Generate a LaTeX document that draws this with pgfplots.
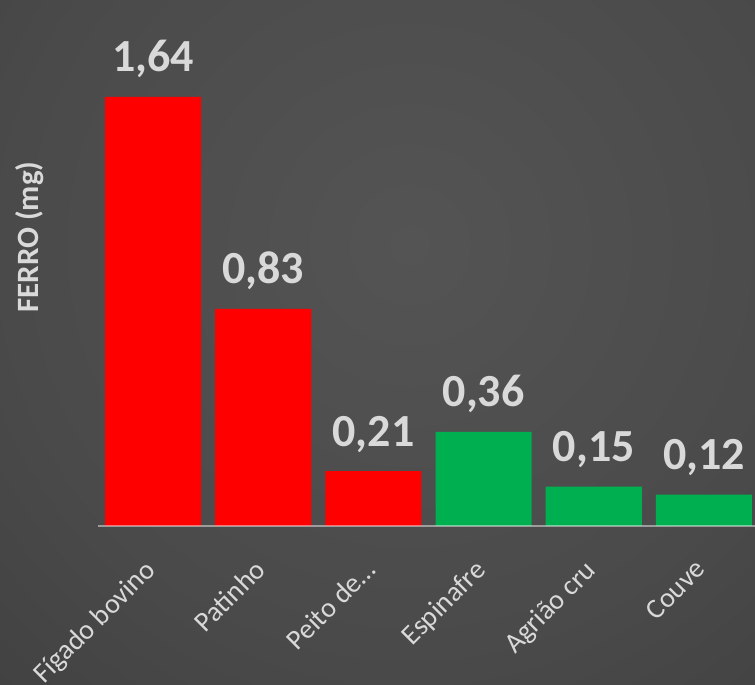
\documentclass[border=0pt]{standalone}
\usepackage{pgfplots}
\pgfplotsset{compat=1.18}
\usepackage{fontspec}
\setmainfont{Carlito}
\definecolor{bgin}{HTML}{545454}
\definecolor{bgmid}{HTML}{4A4A4A}
\definecolor{bgo1}{HTML}{383838}
\definecolor{bgout}{HTML}{242424}
\definecolor{barred}{HTML}{FF0000}
\definecolor{bargreen}{HTML}{00B050}
\definecolor{lbl}{HTML}{D9D9D9}
\pgfdeclareradialshading{bgshade}{\pgfpoint{0bp}{0bp}}{color(0bp)=(bgin); color(16bp)=(bgmid); color(34bp)=(bgo1); color(46bp)=(bgout); color(50bp)=(bgout)}
\begin{document}
\begin{tikzpicture}[x=1pt,y=1pt]
\useasboundingbox (0,0) rectangle (755,685);
\begin{scope}
\clip (0,0) rectangle (755,685);
\shade[shading=bgshade] (410,440) circle (630);
\end{scope}
\begin{axis}[
  at={(98pt,159pt)}, anchor=south west,
  scale only axis, width=661pt, height=523.4pt,
  xmin=-0.5, xmax=5.5, ymin=0, ymax=2,
  clip=false,
  axis line style={draw=none},
  ytick=\empty,
  xtick={0,1,2,3,4,5},
  xticklabels={Fígado bovino, Patinho, Peito de…, Espinafre, Agrião cru, Couve},
  major tick length=0pt,
  xticklabel style={font=\fontsize{28}{30}\selectfont, text=lbl, xshift=-10pt, yshift=-32pt, rotate=45, anchor=north east, inner sep=0pt},
  ylabel={\textbf{FERRO (mg)}},
  ylabel style={at={(axis description cs:-0.103,0.552)}, anchor=center, font=\fontsize{31}{34}\selectfont, text=lbl},
  ybar, bar width=96pt,
  nodes near coords,
  /pgf/number format/.cd, use comma, fixed, fixed zerofill, precision=2, assume math mode=true,
  /pgfplots/.cd,
  nodes near coords style={anchor=base, yshift=25pt, inner sep=0pt, font=\fontsize{46}{50}\selectfont\bfseries, text=lbl},
]
\addplot[draw=none, fill=barred, bar shift=0pt] coordinates {(0,1.64) (1,0.83) (2,0.21)};
\addplot[draw=none, fill=bargreen, bar shift=0pt] coordinates {(3,0.36) (4,0.15) (5,0.12)};
\draw[white, opacity=0.45, line width=2pt] (axis cs:-0.5,0) -- (axis cs:5.5,0);
\end{axis}
\end{tikzpicture}
\end{document}
